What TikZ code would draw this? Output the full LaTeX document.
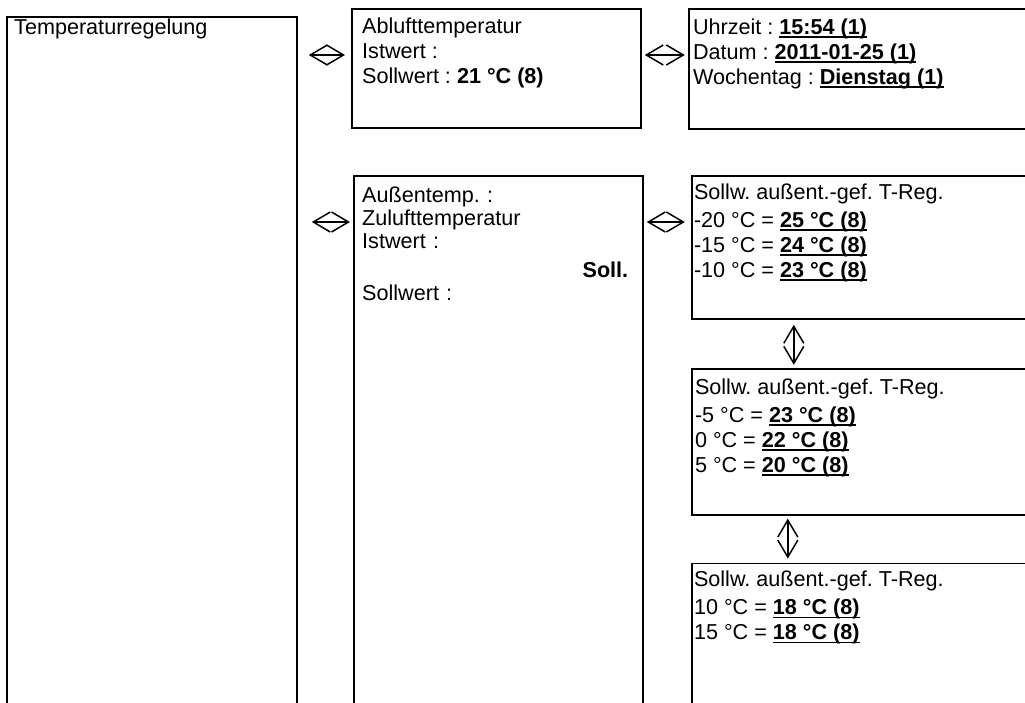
\documentclass[tikz,border=0pt]{standalone}
\usepackage{fontspec}
\setmainfont{Liberation Sans}
\usetikzlibrary{arrows.meta, positioning, calc}
\frenchspacing

% bold, underlined setting value
\newcommand{\uval}[1]{\setbox0=\hbox{\bfseries #1}\rlap{\rule[-3.5pt]{\wd0}{1.8pt}}\box0}

\begin{document}
\begin{tikzpicture}[
  x=1pt, y=-1pt,
  panel/.style={rectangle, draw=black, line width=1.8pt, anchor=north west, inner sep=0pt},
  paneltext/.style={anchor=north west, align=left, inner sep=0pt, font=\fontsize{21.6}{25}\selectfont},
  nav/.style={line width=1.5pt, {Straight Barb[length=17pt, width=20pt]}-{Straight Barb[length=17pt, width=20pt]}}
]
\clip (0,0) rectangle (1025,702);
\useasboundingbox (0,0) rectangle (1025,702);

% Panels
\node (regel) [panel, minimum width=290pt, minimum height=720pt] at (6,16) {};
\node (abluft) [panel, minimum width=289pt, minimum height=119pt] at (351,8) {};
\node (zeit) [panel, minimum width=360pt, minimum height=120pt, right=46pt of abluft.north east, anchor=north west] {};
\node (zuluft) [panel, minimum width=289pt, minimum height=560pt] at (353,175) {};
\node (kurve1) [panel, minimum width=360pt, minimum height=143pt, right=47pt of zuluft.north east, anchor=north west] {};
\node (kurve2) [panel, minimum width=360pt, minimum height=146pt, below=48pt of kurve1.south west, anchor=north west] {};
\node (kurve3) [panel, minimum width=360pt, minimum height=200pt, below=47pt of kurve2.south west, anchor=north west] {};

% Texts
\node (regel-txt) [paneltext, below right=0.5pt and 8pt of regel.north west] {\strut Temperaturregelung};
\node (abluft-txt) [paneltext, below right=8pt and 11pt of abluft.north west] {\strut Ablufttemperatur\\ Istwert :\\ Sollwert : \textbf{21 °C (8)}};
\node (zeit-txt) [paneltext, below right=9pt and 5pt of zeit.north west] {\strut Uhrzeit : \uval{15:54 (1)}\\ Datum : \uval{2011-01-25 (1)}\\ Wochentag : \uval{Dienstag (1)}};
\node (zuluft-txt) [paneltext, text width=266pt, font=\fontsize{21.6}{23}\selectfont, below right=11pt and 9pt of zuluft.north west] {\strut Außentemp. :\\ Zulufttemperatur\\ Istwert :\\[6pt] \hfill\textbf{Soll.}\\ Sollwert :};
\node (kurve1-txt) [paneltext, below right=6.5pt and 3pt of kurve1.north west] {\strut Sollw. außent.-gef. T-Reg.\\[3pt] -20 °C = \uval{25 °C (8)}\\ -15 °C = \uval{24 °C (8)}\\ -10 °C = \uval{23 °C (8)}};
\node (kurve2-txt) [paneltext, below right=8.5pt and 4pt of kurve2.north west] {\strut Sollw. außent.-gef. T-Reg.\\[3pt] -5 °C = \uval{23 °C (8)}\\ 0 °C = \uval{22 °C (8)}\\ 5 °C = \uval{20 °C (8)}};
\node (kurve3-txt) [paneltext, below right=6.5pt and 3pt of kurve3.north west] {\strut Sollw. außent.-gef. T-Reg.\\[3pt] 10 °C = \uval{18 °C (8)}\\ 15 °C = \uval{18 °C (8)}};

% Navigation arrows
\draw [nav] ($(regel.east |- abluft.north)+(11,47)$) -- ($(abluft.north west)+(-6,47)$);
\draw [nav] ($(abluft.north east)+(3,47)$) -- ($(zeit.north west)+(-3,47)$);
\draw [nav] ($(regel.east |- zuluft.north)+(14,47)$) -- ($(zuluft.north west)+(-3,47)$);
\draw [nav] ($(zuluft.north east)+(3,47)$) -- ($(kurve1.north west)+(-6,47)$);
\draw [nav] ($(kurve1.south west)+(103,5)$) -- ($(kurve2.north west)+(103,-3)$);
\draw [nav] ($(kurve2.south west)+(97,3)$) -- ($(kurve3.north west)+(97,-4)$);
\end{tikzpicture}
\end{document}
